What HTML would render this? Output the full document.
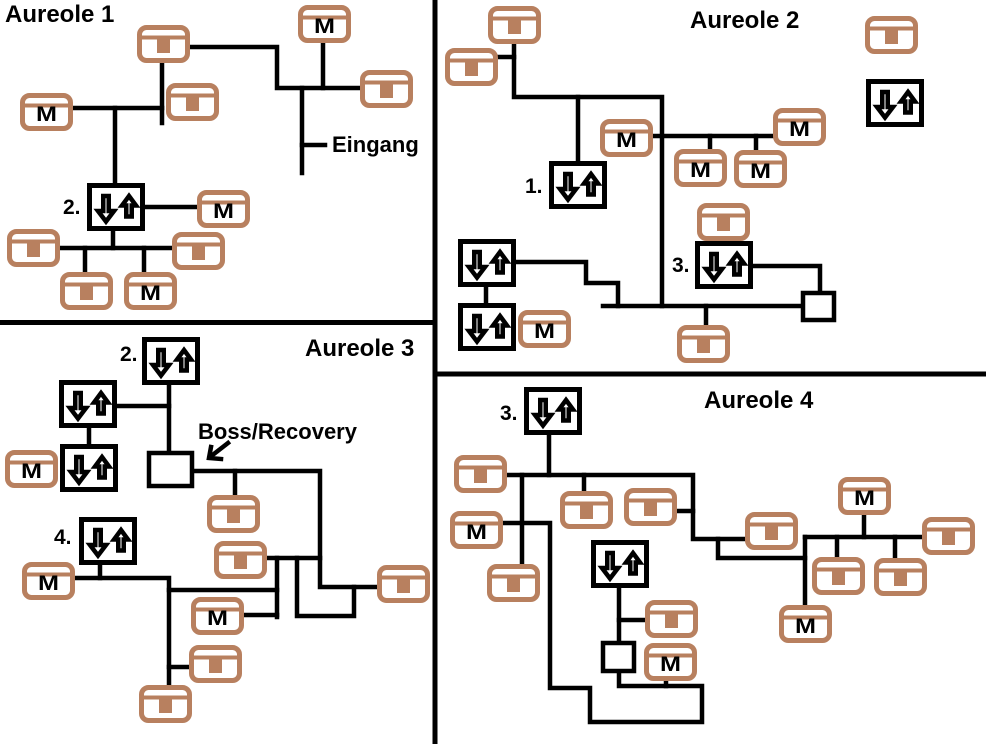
<!DOCTYPE html>
<html><head><meta charset="utf-8"><style>
html,body{margin:0;padding:0;background:#fff;}
svg{display:block;}
text{font-family:"Liberation Sans",Arial,sans-serif;font-weight:bold;fill:#000;}
</style></head><body>
<svg width="986" height="744" viewBox="0 0 986 744" xmlns="http://www.w3.org/2000/svg">
<defs>
<g id="c"><rect x="2.5" y="2.5" width="48" height="33" rx="7" fill="#fff" stroke="#b8805f" stroke-width="5"/><line x1="3" y1="12.5" x2="50" y2="12.5" stroke="#b8805f" stroke-width="4"/></g>
<g id="ck"><use href="#c"/><rect x="20" y="12" width="13" height="16" fill="#b8805f"/></g>
<g id="s"><rect x="2.5" y="2.5" width="53" height="43" fill="#fff" stroke="#000" stroke-width="5"/>
<polygon points="16.25,13 21.75,13 21.75,28 27,28 19,38.5 11,28 16.25,28" fill="#fff" stroke="#000" stroke-width="4.5"/>
<polygon points="42,13 49,22.5 44.75,22.5 44.75,33.5 39.25,33.5 39.25,22.5 35,22.5" fill="#fff" stroke="#000" stroke-width="4.5"/></g>
</defs>
<rect width="986" height="744" fill="#fff"/>
<!-- dividers -->
<g stroke="#000" stroke-width="5" fill="none">
<line x1="435" y1="0" x2="435" y2="744"/>
<line x1="0" y1="322.5" x2="435" y2="322.5"/>
<line x1="435" y1="374" x2="986" y2="374"/>
</g>
<!-- connectors -->
<g stroke="#000" stroke-width="4.5" fill="none" stroke-linecap="square" stroke-linejoin="miter">
<!-- A1 -->
<polyline points="190,47 277,47 277,88 360,88"/>
<line x1="323" y1="43" x2="323" y2="88"/>
<line x1="302" y1="88" x2="302" y2="173"/>
<line x1="302" y1="145" x2="325" y2="145"/>
<line x1="162" y1="64" x2="162" y2="123"/>
<line x1="73" y1="108" x2="162" y2="108"/>
<line x1="115" y1="108" x2="115" y2="183"/>
<line x1="145" y1="207" x2="197" y2="207"/>
<line x1="113" y1="232" x2="113" y2="248"/>
<line x1="60" y1="248" x2="172" y2="248"/>
<line x1="85" y1="248" x2="85" y2="272"/>
<line x1="144" y1="248" x2="144" y2="272"/>
<!-- A2 -->
<line x1="498" y1="57" x2="514" y2="57"/>
<polyline points="514,44 514,97 662,97 662,306"/>
<line x1="578" y1="97" x2="578" y2="161"/>
<line x1="651" y1="136" x2="773" y2="136"/>
<line x1="710" y1="136" x2="710" y2="149"/>
<line x1="756" y1="136" x2="756" y2="150"/>
<polyline points="753,266 820,266 820,291"/>
<line x1="603" y1="306" x2="801" y2="306"/>
<line x1="706" y1="306" x2="706" y2="325"/>
<polyline points="516,262 586,262 586,283 618,283 618,306"/>
<line x1="486" y1="287" x2="486" y2="303"/>
<!-- A3 -->
<line x1="169" y1="385" x2="169" y2="453"/>
<line x1="117" y1="406" x2="169" y2="406"/>
<line x1="89" y1="427" x2="89" y2="444"/>
<polyline points="194,471 320,471 320,587 377,587"/>
<line x1="235" y1="471" x2="235" y2="495"/>
<line x1="268" y1="558" x2="320" y2="558"/>
<line x1="277" y1="558" x2="277" y2="617"/>
<polyline points="297,558 297,616 354,616 354,587"/>
<line x1="100" y1="565" x2="100" y2="578"/>
<polyline points="75,578 169,578 169,685"/>
<line x1="169" y1="590" x2="277" y2="590"/>
<line x1="244" y1="615" x2="277" y2="615"/>
<line x1="169" y1="667" x2="189" y2="667"/>
<line x1="228" y1="443" x2="210" y2="457"/>
<polyline points="211,447 209,458 221,459"/>
<!-- A4 -->
<line x1="549" y1="435" x2="549" y2="475"/>
<polyline points="507,475 693,475 693,539 745,539"/>
<line x1="522" y1="475" x2="522" y2="564"/>
<line x1="584" y1="475" x2="584" y2="491"/>
<line x1="677" y1="511" x2="693" y2="511"/>
<polyline points="718,539 718,558 805,558"/>
<line x1="805" y1="537" x2="805" y2="605"/>
<line x1="805" y1="537" x2="922" y2="537"/>
<line x1="864" y1="514" x2="864" y2="537"/>
<line x1="837" y1="537" x2="837" y2="557"/>
<line x1="895" y1="537" x2="895" y2="558"/>
<polyline points="502,523 550,523 550,688 590,688 590,722 702,722 702,686 619,686 619,673"/>
<line x1="619" y1="588" x2="619" y2="641"/>
<line x1="619" y1="620" x2="645" y2="620"/>
<line x1="666" y1="682" x2="666" y2="686"/>
</g>
<!-- boss squares -->
<g fill="#fff" stroke="#000" stroke-width="4.5">
<rect x="803" y="293" width="31" height="27"/>
<rect x="149" y="453" width="43" height="33"/>
<rect x="603" y="643" width="31" height="28"/>
</g>
<!-- stairs -->
<use href="#s" x="87" y="183"/>
<use href="#s" x="549" y="161"/>
<use href="#s" x="866" y="79"/>
<use href="#s" x="695" y="241"/>
<use href="#s" x="458" y="239"/>
<use href="#s" x="458" y="303"/>
<use href="#s" x="142" y="337"/>
<use href="#s" x="59" y="380"/>
<use href="#s" x="60" y="444"/>
<use href="#s" x="79" y="517"/>
<use href="#s" x="524" y="387"/>
<use href="#s" x="591" y="540"/>
<!-- plain chests -->
<use href="#ck" x="137" y="25"/>
<use href="#ck" x="360" y="70"/>
<use href="#ck" x="166" y="83"/>
<use href="#ck" x="7" y="229"/>
<use href="#ck" x="172" y="232"/>
<use href="#ck" x="60" y="272"/>
<use href="#ck" x="488" y="6"/>
<use href="#ck" x="445" y="48"/>
<use href="#ck" x="865" y="16"/>
<use href="#ck" x="697" y="203"/>
<use href="#ck" x="677" y="325"/>
<use href="#ck" x="207" y="495"/>
<use href="#ck" x="214" y="541"/>
<use href="#ck" x="377" y="565"/>
<use href="#ck" x="189" y="645"/>
<use href="#ck" x="139" y="685"/>
<use href="#ck" x="454" y="455"/>
<use href="#ck" x="487" y="564"/>
<use href="#ck" x="560" y="491"/>
<use href="#ck" x="624" y="488"/>
<use href="#ck" x="745" y="512"/>
<use href="#ck" x="922" y="517"/>
<use href="#ck" x="812" y="557"/>
<use href="#ck" x="874" y="558"/>
<use href="#ck" x="645" y="600"/>
<!-- M chests -->
<use href="#c" x="298" y="5"/>
<use href="#c" x="20" y="93"/>
<use href="#c" x="197" y="190"/>
<use href="#c" x="124" y="272"/>
<use href="#c" x="600" y="119"/>
<use href="#c" x="773" y="108"/>
<use href="#c" x="674" y="149"/>
<use href="#c" x="734" y="150"/>
<use href="#c" x="518" y="310"/>
<use href="#c" x="5" y="450"/>
<use href="#c" x="22" y="562"/>
<use href="#c" x="191" y="597"/>
<use href="#c" x="450" y="511"/>
<use href="#c" x="838" y="477"/>
<use href="#c" x="779" y="605"/>
<use href="#c" x="644" y="643"/>
<g font-size="21" text-anchor="middle">
<text x="324.5" y="33" textLength="21" lengthAdjust="spacingAndGlyphs">M</text>
<text x="46.5" y="121" textLength="21" lengthAdjust="spacingAndGlyphs">M</text>
<text x="223.5" y="218" textLength="21" lengthAdjust="spacingAndGlyphs">M</text>
<text x="150.5" y="300" textLength="21" lengthAdjust="spacingAndGlyphs">M</text>
<text x="626.5" y="147" textLength="21" lengthAdjust="spacingAndGlyphs">M</text>
<text x="799.5" y="136" textLength="21" lengthAdjust="spacingAndGlyphs">M</text>
<text x="700.5" y="177" textLength="21" lengthAdjust="spacingAndGlyphs">M</text>
<text x="760.5" y="178" textLength="21" lengthAdjust="spacingAndGlyphs">M</text>
<text x="544.5" y="338" textLength="21" lengthAdjust="spacingAndGlyphs">M</text>
<text x="31.5" y="478" textLength="21" lengthAdjust="spacingAndGlyphs">M</text>
<text x="48.5" y="590" textLength="21" lengthAdjust="spacingAndGlyphs">M</text>
<text x="217.5" y="625" textLength="21" lengthAdjust="spacingAndGlyphs">M</text>
<text x="476.5" y="539" textLength="21" lengthAdjust="spacingAndGlyphs">M</text>
<text x="864.5" y="505" textLength="21" lengthAdjust="spacingAndGlyphs">M</text>
<text x="805.5" y="633" textLength="21" lengthAdjust="spacingAndGlyphs">M</text>
<text x="670.5" y="671" textLength="21" lengthAdjust="spacingAndGlyphs">M</text>
</g>
<!-- titles & labels -->
<g font-size="24">
<text x="5" y="22">Aureole 1</text>
<text x="690" y="28">Aureole 2</text>
<text x="305" y="356">Aureole 3</text>
<text x="704" y="408">Aureole 4</text>
</g>
<g font-size="22">
<text x="332" y="152">Eingang</text>
<text x="198" y="439">Boss/Recovery</text>
</g>
<g font-size="21">
<text x="63" y="214">2.</text>
<text x="525" y="193">1.</text>
<text x="672" y="272">3.</text>
<text x="120" y="361">2.</text>
<text x="54" y="544">4.</text>
<text x="500" y="420">3.</text>
</g>
</svg>
</body></html>
